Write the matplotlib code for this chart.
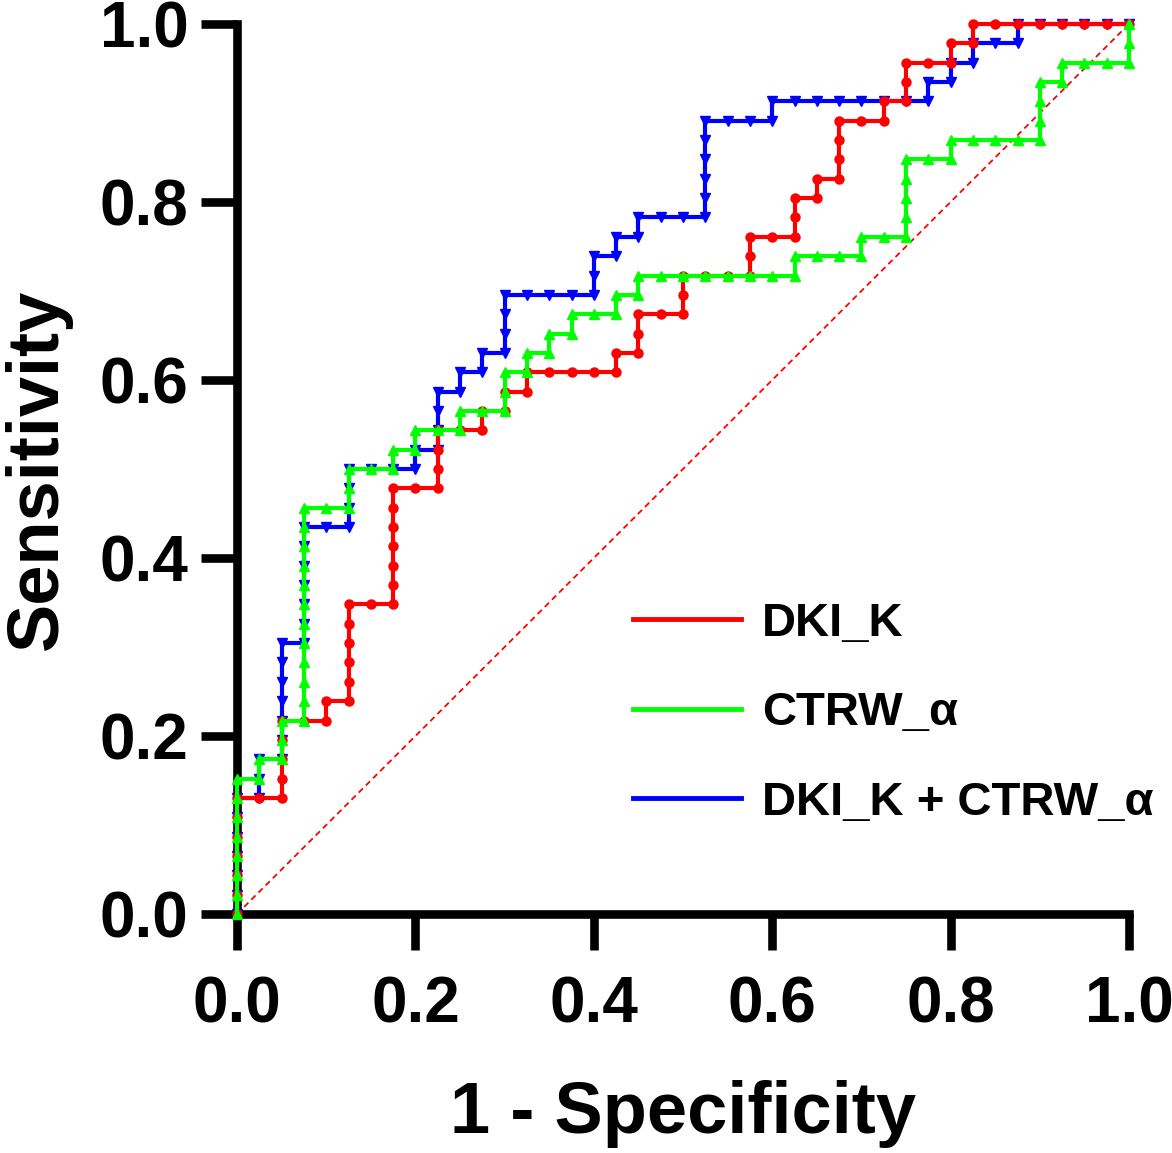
import numpy as np
import matplotlib
matplotlib.use('Agg')
import matplotlib.pyplot as plt
from matplotlib.lines import Line2D

plt.rcParams['font.family'] = ['Liberation Sans', 'DejaVu Sans']
plt.rcParams['font.weight'] = 'bold'

# ROC data: 46 positive cases, 40 negative cases.
# Cases sorted by score, written as alternating run lengths:
# ups = consecutive positives, rights = consecutive negatives.
n_pos = 46
n_neg = 40

dki_ups = [6, 4, 1, 5, 6, 3, 1, 1, 1, 1, 2, 2, 2, 2, 1, 3, 1, 2, 1, 1]
dki_rights = [2, 2, 1, 2, 2, 2, 1, 1, 4, 1, 2, 3, 2, 1, 1, 2, 1, 2, 1, 7]

ctrw_ups = [7, 1, 2, 11, 2, 1, 1, 1, 2, 1, 1, 1, 1, 1, 1, 1, 4, 1, 3, 1, 2]
ctrw_rights = [1, 1, 1, 2, 2, 1, 2, 2, 1, 1, 1, 2, 1, 7, 3, 2, 2, 4, 1, 3]

comb_ups = [6, 2, 6, 6, 3, 1, 3, 1, 1, 3, 2, 1, 1, 5, 1, 1, 1, 1, 1]
comb_rights = [1, 1, 1, 2, 3, 1, 1, 1, 1, 4, 1, 1, 3, 3, 7, 1, 1, 2, 5]

labels = ['DKI_K', 'CTRW_α', 'DKI_K + CTRW_α']
colors = ['#ff0000', '#00ff00', '#0000ff']


def roc_points(ups, rights):
    outcome = []
    for i, u in enumerate(ups):
        outcome += [1] * u
        if i < len(rights):
            outcome += [0] * rights[i]
    outcome = np.array(outcome)
    tpr = np.concatenate([[0], np.cumsum(outcome == 1)]) / n_pos
    fpr = np.concatenate([[0], np.cumsum(outcome == 0)]) / n_neg
    return fpr, tpr


fig = plt.figure(figsize=(11.72, 11.53), dpi=100)
ax = fig.add_axes([237 / 1172, 1 - 914 / 1153, 892 / 1172, 890 / 1153])

# reference diagonal
ax.plot([0, 1], [0, 1], color='#ff0000', lw=1.3, linestyle=(0, (3.3, 2.3)), zorder=3)

x, y = roc_points(comb_ups, comb_rights)
ax.plot(x, y, color=colors[2], lw=3, marker='v', ms=7, clip_on=False, zorder=4)
x, y = roc_points(dki_ups, dki_rights)
ax.plot(x, y, color=colors[0], lw=3, marker='o', ms=6.5, clip_on=False, zorder=5)
x, y = roc_points(ctrw_ups, ctrw_rights)
ax.plot(x, y, color=colors[1], lw=3, marker='^', ms=7, clip_on=False, zorder=6)

ax.set_xlim(0, 1)
ax.set_ylim(0, 1)
ticks = [0.0, 0.2, 0.4, 0.6, 0.8, 1.0]
ax.set_xticks(ticks)
ax.set_yticks(ticks)
ax.set_xticklabels(['%.1f' % t for t in ticks])
ax.set_yticklabels(['%.1f' % t for t in ticks])

for side in ['top', 'right']:
    ax.spines[side].set_visible(False)
for side in ['left', 'bottom']:
    ax.spines[side].set_linewidth(6.2)
    ax.spines[side].set_capstyle('projecting')

ax.tick_params(axis='both', length=26, width=6.2, labelsize=46)
ax.tick_params(axis='x', pad=18)
ax.tick_params(axis='y', pad=9)

ax.set_xlabel('1 - Specificity', fontsize=52, fontweight='bold', labelpad=32)
ax.set_ylabel('Sensitivity', fontsize=52, fontweight='bold', labelpad=20)

handles = [Line2D([0], [0], color=c, lw=3.5) for c in colors]
ax.legend(handles, labels, loc='upper left', bbox_to_anchor=(633 / 1172, 1 - 602 / 1153),
          bbox_transform=fig.transFigure, frameon=False, fontsize=34,
          handlelength=2.29, handletextpad=0.44, labelspacing=0.96,
          borderpad=0, borderaxespad=0)

fig.savefig('out.png', dpi=100)
